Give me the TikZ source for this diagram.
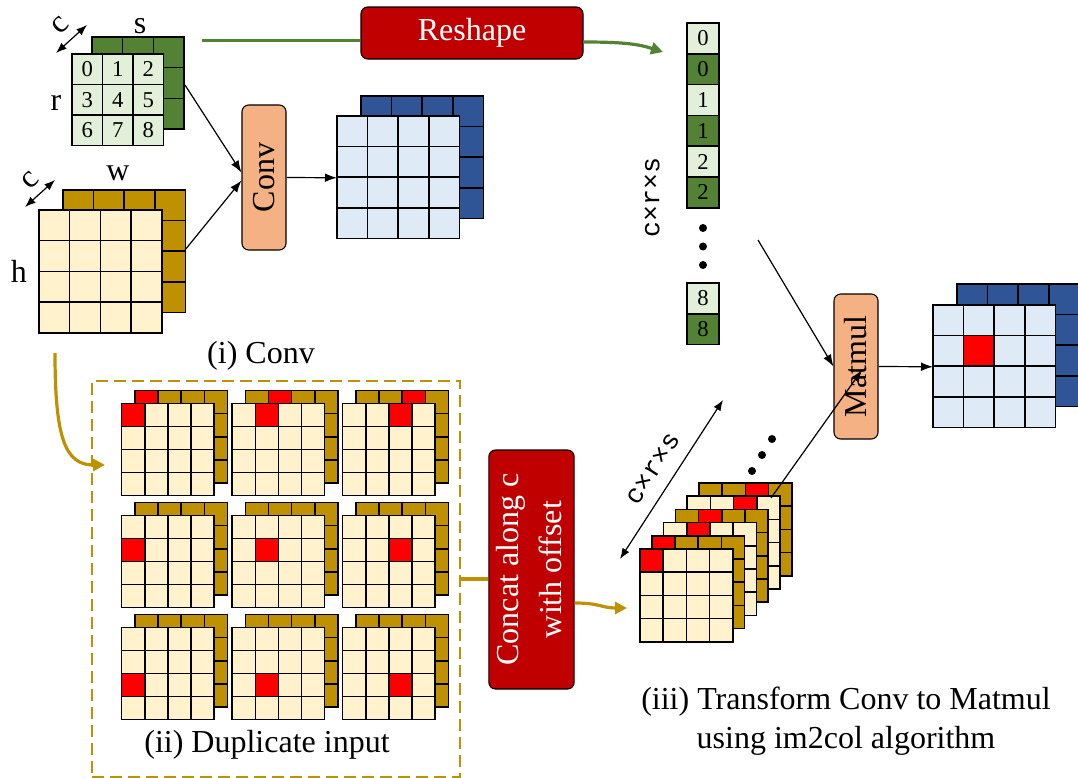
\documentclass[tikz,border=0pt]{standalone}
\usepackage{fontspec}
\usepackage{graphicx}
\setmainfont{Liberation Serif}
\newfontfamily\dimfont{Liberation Mono}
\usetikzlibrary{arrows.meta,calc}

\definecolor{lgreen}{HTML}{E2F0D9}
\definecolor{dgreen}{HTML}{548235}
\definecolor{cream}{HTML}{FFF2CC}
\definecolor{gold}{HTML}{BF9000}
\definecolor{lblue}{HTML}{DEEBF7}
\definecolor{dblue}{HTML}{2F5597}
\definecolor{opfill}{HTML}{F4B183}
\definecolor{dred}{HTML}{C00000}
\definecolor{hot}{HTML}{FF0000}

% n x n block of square cells, top-left corner at (#1,#2), cell size #4, fill #5
\newcommand\cellgrid[5]{%
  \foreach \ci in {1,...,#3}{\foreach \cj in {1,...,#3}{%
    \draw[cellline, fill=#5] ({#1+(\cj-1)*#4},{#2+(\ci-1)*#4}) rectangle ++(#4,#4);}}}
% one highlighted cell (row #4, column #5) of the block at (#1,#2) with cell size #3
\newcommand\hotcell[5]{%
  \draw[cellline, fill=hot] ({#1+#5*#3},{#2+#4*#3}) rectangle ++(#3,#3);}

\begin{document}
\begin{tikzpicture}[x=0.75pt,y=-0.75pt,
  lab/.style={font=\fontsize{24}{28}\selectfont, inner sep=0pt},
  num/.style={font=\fontsize{17}{19}\selectfont, inner sep=0pt},
  dimlab/.style={font=\dimfont\fontsize{20}{24}\selectfont, inner sep=0pt},
  cellline/.style={draw=black, line width=1.1pt},
  opbox/.style={draw=black, line width=0.8pt, rounded corners=5pt, inner sep=0pt,
                font=\fontsize{24}{32}\selectfont},
  area/.style={inner sep=0pt, draw=none},
  conn/.style={-{Latex[length=9pt,width=6.5pt]}, line width=0.9pt},
  dbl/.style={{Latex[length=8pt,width=6pt]}-{Latex[length=8pt,width=6pt]}, line width=0.9pt},
  greenflow/.style={draw=dgreen, line width=2.4pt},
  goldflow/.style={draw=gold, line width=2.4pt},
  colcell/.style={draw=black, line width=1.1pt, minimum width=24pt, minimum height=23.1pt,
                  inner sep=0pt, font=\fontsize{17}{19}\selectfont}
]
\useasboundingbox (0,0) rectangle (1078,778);

% ---------- (i) direct convolution ----------
% kernel: two 3x3 channels
\cellgrid{92}{37}{3}{30.7}{dgreen}
\cellgrid{72}{54}{3}{30.5}{lgreen}
\node[area, minimum width=69pt, minimum height=69.75pt, anchor=north west] (kernel) at (92,37) {};
\foreach \r in {0,1,2}{\foreach \c in {0,1,2}{
  \pgfmathtruncatemacro\v{3*\r+\c}
  \node[num] (k\v) at ({72+30.5*(\c+0.5)},{54+30.5*(\r+0.5)}) {\v};}}
\node[lab] (lbls) at (140,26) {s};
\node[lab] (lblr) at (56,103) {r};
\node[lab, rotate=45] (lblck) at (60,25) {c};
\coordinate (kc1) at (56,53);
\coordinate (kc2) at (87,25);
\draw[dbl] (kc1) -- (kc2);

% input feature map: two 4x4 channels
\cellgrid{63}{190}{4}{30.6}{gold}
\cellgrid{39}{210}{4}{30.7}{cream}
\node[area, minimum width=91.5pt, minimum height=92.25pt, anchor=north west] (inmap) at (63,190) {};
\node[lab] (lblw) at (118,173) {w};
\node[lab] (lblh) at (19,271) {h};
\node[lab, rotate=45] (lblci) at (30,180) {c};
\coordinate (ic1) at (25,207);
\coordinate (ic2) at (55,180);
\draw[dbl] (ic1) -- (ic2);

% Conv operator and its output
\node[opbox, fill=opfill, minimum width=33pt, minimum height=108.75pt] (conv) at (264,177.5) {\rotatebox{90}{Conv}};
\cellgrid{361}{96}{4}{30.6}{dblue}
\cellgrid{337}{116}{4}{30.6}{lblue}
\node[area, minimum width=91.5pt, minimum height=92.25pt, anchor=north west] (convout) at (337,116) {};
\coordinate (kout) at (185,85);
\coordinate (iout) at (185,250);
\draw[conn] (kout) -- ($(conv.west)+(0,-5)$);
\draw[conn] (iout) -- ($(conv.west)+(0,3)$);
\draw[conn] (conv.east) -- (convout.west);
\node[lab] (capi) at (261,356) {(i) Conv};

% ---------- reshape of the kernel into a column ----------
\node[opbox, fill=dred, text=white, minimum width=166.5pt, minimum height=39pt] (reshape) at (472,33) {Reshape};
\coordinate (kstart) at (202,40.5);
\coordinate (rsout) at (583,42);
\coordinate (colin) at (663,52);
\draw[greenflow] (kstart) -- (kstart -| reshape.west);
\draw[greenflow, -{Triangle[length=9pt,width=9pt]}] (rsout) .. controls +(40,0) and +(-25,-8) .. (colin);

\foreach \y/\t/\f [count=\n] in {38.4/0/lgreen, 69.2/0/dgreen, 100/1/lgreen, 130.8/1/dgreen,
                                  161.6/2/lgreen, 192.4/2/dgreen, 298.4/8/lgreen, 329.2/8/dgreen}
  \node[colcell, fill=\f] (col\n) at (703,\y) {\t};
\foreach \y in {228,246.5,265} \fill (703,\y) circle (4);
\node[dimlab, rotate=90] (dimcol) at (652,197) {c×r×s};

% ---------- (ii) duplicated input ----------
\node[area, draw=gold, line width=1.6pt, dash pattern=on 9pt off 4.5pt,
      minimum width=276pt, minimum height=297pt, anchor=north west] (dupframe) at (91,380) {};
\foreach \i in {0,1,2}{\foreach \j in {0,1,2}{
  \pgfmathsetmacro\fx{121.7+110.5*\j}
  \pgfmathsetmacro\fy{403.3+112*\i}
  \cellgrid{\fx+13.3}{\fy-12.7}{4}{23.1}{gold}
  \ifnum\i=0 \hotcell{\fx+13.3}{\fy-12.7}{23.1}{0}{\j}\fi
  \cellgrid{\fx}{\fy}{4}{23.1}{cream}
  \hotcell{\fx}{\fy}{23.1}{\i}{\j}
}}
\node[lab] (capii) at (267,745) {(ii) Duplicate input};
\coordinate (instart) at (55,353);
\coordinate (dupin) at (105,465);
\draw[goldflow, -{Triangle[length=9pt,width=9pt]}] (instart) .. controls +(0,85) and +(-40,0) .. (dupin);

% ---------- (iii) im2col ----------
\node[opbox, fill=dred, text=white, minimum width=59.25pt, minimum height=179.25pt] (concat) at (531.5,569.5)
  {\rotatebox{90}{\begin{tabular}{@{}c@{}}Concat along c\\with offset\end{tabular}}};
\draw[goldflow] (dupframe.east) -- (dupframe.east -| concat.west);

% stacked channels: patch position k/2, two channels each
\foreach \k in {5,4,...,0}{
  \pgfmathsetmacro\sx{640+11.8*\k}
  \pgfmathsetmacro\sy{549-13.2*\k}
  \pgfmathtruncatemacro\hc{\k/2}
  \pgfmathtruncatemacro\lay{mod(\k,2)}
  \ifnum\lay=0 \cellgrid{\sx}{\sy}{4}{23.2}{cream}\else \cellgrid{\sx}{\sy}{4}{23.2}{gold}\fi
  \hotcell{\sx}{\sy}{23.2}{0}{\hc}
}
\coordinate (stackin) at (627,608);
\draw[goldflow, -{Triangle[length=9pt,width=9pt]}] ($(concat.east)+(0,33.5)$) .. controls +(25,0) and +(-25,0) .. (stackin);
\foreach \x/\y in {772/439, 762/455, 752/471} \fill (\x,\y) circle (4);
\coordinate (dlow) at (620,559);
\coordinate (dhigh) at (723,400);
\draw[dbl] (dlow) -- (dhigh);
\node[dimlab, rotate=57] (dimdiag) at (653,469) {c×r×s};

% Matmul and its result
\node[opbox, fill=opfill, minimum width=33pt, minimum height=108.75pt] (matmul) at (856,366.5) {\rotatebox{90}{Matmul}};
\cellgrid{957}{284}{4}{30.6}{dblue}
\cellgrid{933}{305}{4}{30.6}{lblue}
\hotcell{933}{305}{30.6}{1}{1}
\node[area, minimum width=91.5pt, minimum height=92.25pt, anchor=north west] (result) at (933,305) {};
\coordinate (colend) at (758,240);
\draw[conn] (colend) -- (matmul.west);
\coordinate (stacktop) at (771,498);
\coordinate (mmhit) at (862,370);
\draw[conn] (stacktop) -- (mmhit);
\draw[conn] (matmul.east) -- (result.west);

\node[lab, align=center, font=\fontsize{24}{29.25}\selectfont] (capiii) at (846,721)
  {(iii) Transform Conv to Matmul\\using im2col algorithm};
\end{tikzpicture}
\end{document}
